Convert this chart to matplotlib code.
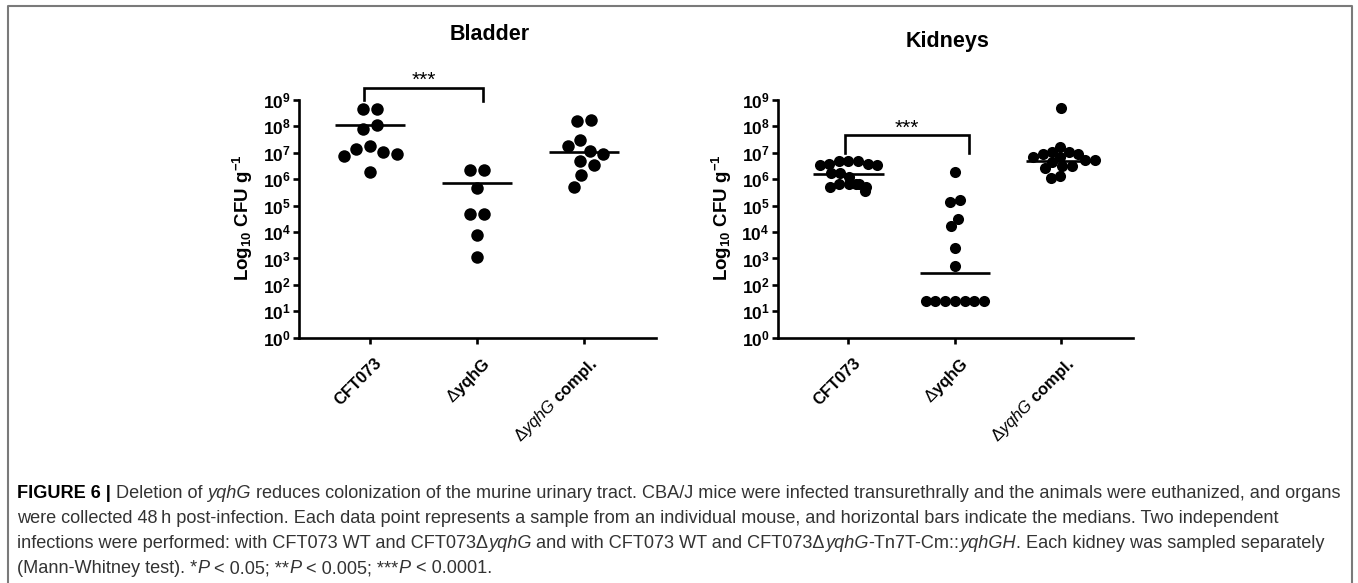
import numpy as np
import matplotlib
matplotlib.use("Agg")
import matplotlib.pyplot as plt
from matplotlib.transforms import IdentityTransform, ScaledTranslation
from matplotlib.lines import Line2D

W, H, DPI = 1358, 583, 100

# ---------------- data (CFU per gram) ----------------
group_labels = ["CFT073", "Δ$\\mathbf{yqhG}$", "$\\mathit{\\Delta yqhG}$ compl."]
group_weights = ["bold", "normal", "bold"]

bladder_cft073 = [4.5e8, 4.5e8, 1.1e8, 8.0e7, 1.4e7, 8.7e6, 7.6e6, 1.07e7, 1.8e7, 1.8e6]
bladder_dyqhg = [2.3e6, 2.3e6, 4.7e5, 5.0e4, 5.0e4, 7.6e3, 1.1e3]
bladder_compl = [1.8e8, 1.6e8, 3.0e7, 1.8e7, 1.2e7, 9.3e6, 4.9e6, 3.5e6, 1.45e6, 5.0e5]
bladder_bars = [1.1e8, 7.5e5, 1.1e7]

kidney_cft073 = [3.9e6, 4.9e6, 3.4e6, 4.8e6, 3.4e6, 5.0e6, 3.9e6,
                 1.66e6, 1.66e6, 1.2e6,
                 6.8e5, 6.8e5, 5.0e5, 3.5e5, 5.2e5, 6.8e5, 6.8e5]
kidney_dyqhg = [1.9e6, 1.35e5, 1.65e5, 3.0e4, 1.7e4, 2.5e3, 5.0e2,
                25, 25, 25, 25, 25, 25, 25]
kidney_compl = [5.1e8, 1.7e7, 1.1e7, 9.3e6, 7.1e6, 5.2e6, 4.6e6, 5.2e6, 7.1e6, 9.3e6, 1.1e7,
                3.1e6, 2.6e6, 1.1e6, 1.3e6, 3.1e6]
kidney_bars = [1.6e6, 2.7e2, 4.8e6]

ytick_values = [10.0 ** k for k in range(10)]
ytick_labels = ["$\\mathbf{10^{%d}}$" % k for k in range(10)]
ylabel_text = "$\\mathbf{Log_{10}\\ CFU\\ g^{-1}}$"
panel_titles = ["Bladder", "Kidneys"]
sig_text = "***"

caption_lines = [
    [("FIGURE 6 | ", "b"), ("Deletion of ", "n"), ("yqhG", "i"),
     (" reduces colonization of the murine urinary tract. CBA/J mice were infected transurethrally and the animals were euthanized, and organs", "n")],
    [("were collected 48\u2009h post-infection. Each data point represents a sample from an individual mouse, and horizontal bars indicate the medians. Two independent", "n")],
    [("infections were performed: with CFT073 WT and CFT073Δ", "n"), ("yqhG", "i"),
     (" and with CFT073 WT and CFT073Δ", "n"), ("yqhG", "i"), ("-Tn7T-Cm::", "n"), ("yqhGH", "i"),
     (". Each kidney was sampled separately", "n")],
    [("(Mann-Whitney test). *", "n"), ("P", "i"), (" < 0.05; **", "n"), ("P", "i"),
     (" < 0.005; ***", "n"), ("P", "i"), (" < 0.0001.", "n")],
]

# ---------------- style ----------------
plt.rcParams["font.family"] = ["Liberation Sans", "DejaVu Sans"]
plt.rcParams["mathtext.fontset"] = "custom"
plt.rcParams["mathtext.rm"] = "Liberation Sans"
plt.rcParams["mathtext.bf"] = "Liberation Sans:bold"
plt.rcParams["mathtext.it"] = "Liberation Sans:italic"
plt.rcParams["mathtext.sf"] = "Liberation Sans"

fig = plt.figure(figsize=(W / DPI, H / DPI), dpi=DPI)
fig.patch.set_facecolor("white")
renderer = fig.canvas.get_renderer()


def px_text(x, y, s, **kw):
    return fig.text(x, H - y, s, transform=IdentityTransform(), **kw)


def swarm_x(ax, center, values, d):
    vals = np.asarray(values, float)
    pts = ax.transData.transform(np.column_stack([np.full(len(vals), center), vals]))
    ypx = pts[:, 1]
    order = np.argsort(-ypx, kind="stable")
    xs = np.zeros(len(vals))
    placed = []
    for i in order:
        y = ypx[i]
        cands = [0.0]
        for xj, yj in placed:
            dy = abs(y - yj)
            if dy < d:
                dx = np.sqrt(d * d - dy * dy)
                cands += [xj + dx, xj - dx]
        ok = [c for c in cands
              if all((c - xj) ** 2 + (y - yj) ** 2 >= d * d - 1e-6 for xj, yj in placed)]
        best = min(ok, key=lambda c: (round(abs(c), 6), c))
        xs[i] = best
        placed.append((best, y))
    n = len(vals)
    parent = list(range(n))

    def find(a):
        while parent[a] != a:
            parent[a] = parent[parent[a]]
            a = parent[a]
        return a

    for i in range(n):
        for j in range(i + 1, n):
            if (xs[i] - xs[j]) ** 2 + (ypx[i] - ypx[j]) ** 2 <= (d * 1.05) ** 2:
                parent[find(i)] = find(j)
    roots = {}
    for i in range(n):
        roots.setdefault(find(i), []).append(i)
    for members in roots.values():
        xs[members] -= xs[members].mean()
    ppu = ax.transData.transform((1, 1))[0] - ax.transData.transform((0, 1))[0]
    return center + xs / ppu


panels = [
    dict(left=299, right=656, groups=[bladder_cft073, bladder_dyqhg, bladder_compl],
         bars=bladder_bars, d=14.0, ms=9.0, title=panel_titles[0], title_xy=(490, 40),
         bracket_x=(-0.06, 1.06), bracket_top=2.95e9, bracket_low=(1.0e9, 0.95e9)),
    dict(left=777.7, right=1133, groups=[kidney_cft073, kidney_dyqhg, kidney_compl],
         bars=kidney_bars, d=9.7, ms=8.0, title=panel_titles[1], title_xy=(948, 46.7),
         bracket_x=(-0.03, 1.13), bracket_top=4.7e7, bracket_low=(1.0e7, 1.0e7)),
]

top_px, bot_px = 100.0, 337.7
for p in panels:
    ax = fig.add_axes([p["left"] / W, 1 - bot_px / H, (p["right"] - p["left"]) / W,
                       (bot_px - top_px) / H])
    ax.set_yscale("log")
    ax.set_ylim(1, 1e9)
    ax.set_xlim(-0.665, 2.675)
    ax.set_facecolor("none")
    for s in ["top", "right"]:
        ax.spines[s].set_visible(False)
    for s in ["left", "bottom"]:
        ax.spines[s].set_linewidth(1.9)
    ax.set_yticks(ytick_values)
    ax.set_yticklabels(ytick_labels, fontsize=12.5)
    ax.yaxis.set_minor_locator(matplotlib.ticker.NullLocator())
    ax.tick_params(axis="y", length=4.5, width=1.9, pad=1.5)
    ax.tick_params(axis="x", length=4.5, width=1.9, pad=8)
    ax.set_xticks([0, 1, 2])
    ax.set_xticklabels(group_labels, rotation=45, ha="right", va="top",
                       rotation_mode="anchor", fontsize=12)
    off = ScaledTranslation(3 / 72, 0, fig.dpi_scale_trans)
    for lbl, wgt in zip(ax.get_xticklabels(), group_weights):
        lbl.set_fontweight(wgt)
        lbl.set_transform(lbl.get_transform() + off)

    for i, vals in enumerate(p["groups"]):
        xs = swarm_x(ax, i, vals, p["d"])
        ax.plot(xs, vals, "o", color="black", ms=p["ms"], mew=0, clip_on=False, zorder=3)
        ax.plot([i - 0.33, i + 0.33], [p["bars"][i]] * 2, color="black", lw=1.9,
                solid_capstyle="butt", zorder=4)

    bx0, bx1 = p["bracket_x"]
    ax.plot([bx0, bx0, bx1, bx1], [p["bracket_low"][0], p["bracket_top"], p["bracket_top"],
                                   p["bracket_low"][1]],
            color="black", lw=1.9, clip_on=False, solid_joinstyle="miter")
    ax.annotate(sig_text, xy=((bx0 + bx1) / 2, p["bracket_top"]), xytext=(0, 1),
                textcoords="offset points", ha="center", va="baseline",
                fontsize=15, annotation_clip=False)

    lx = p["left"] - 56
    px_text(lx, 218, ylabel_text, rotation=90, ha="center", va="center", fontsize=13.5)
    px_text(p["title_xy"][0], p["title_xy"][1], p["title"], ha="center", va="baseline",
            fontsize=15.5, fontweight="bold")

# ---------------- frame ----------------
fx = [8, 8, 1352, 1352]
fy = [0, H - 6, H - 6, 0]
fig.add_artist(Line2D(fx, fy, transform=IdentityTransform(), color="#7a7a7a", lw=1.5))

# ---------------- caption ----------------
styles = {"b": dict(fontweight="bold", color="black"),
          "n": dict(fontweight="normal", color="#333333"),
          "i": dict(fontweight="normal", style="italic", color="#333333")}


def measure(s, fs, st):
    t = fig.text(0, 0, "|" + s + "|", fontsize=fs, **styles[st])
    w1 = t.get_window_extent(renderer).width
    t.set_text("||")
    w0 = t.get_window_extent(renderer).width
    t.remove()
    return w1 - w0


def line_width(runs, fs):
    return sum(measure(s, fs, st) for s, st in runs)


fs0 = 11.0
target = 1340 - 17
cap_fs = fs0 * target / line_width(caption_lines[0], fs0)

baselines = [498, 523, 548, 573]
for runs, yb in zip(caption_lines, baselines):
    x = 17.0
    for s, st in runs:
        lead = len(s) - len(s.lstrip(" "))
        xd = x + (measure(s[:lead], cap_fs, st) if lead else 0.0)
        px_text(xd, yb, s.strip(" "), ha="left", va="baseline", fontsize=cap_fs, **styles[st])
        x += measure(s, cap_fs, st)

fig.savefig("out.png", dpi=DPI, facecolor="white")
